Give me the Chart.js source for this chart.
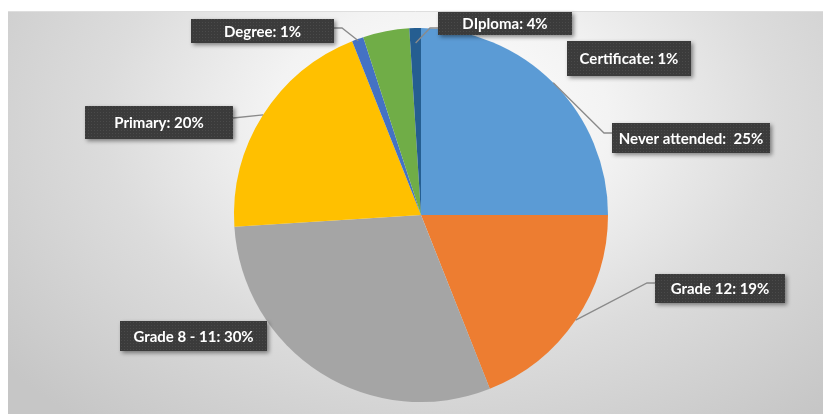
<!DOCTYPE html>
<html>
<head>
<meta charset="utf-8">
<script src="https://cdn.jsdelivr.net/npm/chart.js@4.4.1/dist/chart.umd.min.js"></script>
<style>
    body { margin: 0; background: #ffffff; }
    #wrap { width: 823px; height: 414px; }
</style>
</head>
<body>
<div id="wrap"><canvas id="pie" width="823" height="414"></canvas></div>
<script>
// data, clockwise from 12 o'clock
const categories = ['Never attended', 'Grade 12', 'Grade 8 - 11', 'Primary', 'Degree', 'Diploma', 'Certificate'];
const values = [25, 19, 30, 20, 1, 4, 1];
const labelTexts = ['Never attended:  25%', 'Grade 12: 19%', 'Grade 8 - 11: 30%', 'Primary: 20%', 'Degree: 1%', 'DIploma: 4%', 'Certificate: 1%'];
const sliceColors = ['#5b9bd5', '#ed7d31', '#a5a5a5', '#ffc000', '#4472c4', '#70ad47', '#255e91'];

// label boxes (x, y, w, h), leader line start y offset, side, which slice the leader points at
const boxes = [
    { x: 612, y: 123, w: 158, h: 30, ly: 10, side: 'left', target: 0, k: 1.0 },
    { x: 655, y: 274, w: 130, h: 29, ly: 9, side: 'left', target: 1, k: 1.0 },
    { x: 120, y: 321, w: 147, h: 30, ly: null },
    { x: 85, y: 106, w: 148, h: 33, ly: 12, side: 'right', target: 3, k: 1.0, noElbow: true },
    { x: 191, y: 19, w: 143, h: 24, ly: 9, side: 'right', target: 4, k: 0.99 },
    { x: 438, y: 12, w: 134, h: 23, ly: 16, side: 'left', target: 6, k: 0.92 },
    { x: 567, y: 41, w: 124, h: 35, ly: null }
];

function makePattern(ctx) {
    const p = document.createElement('canvas');
    p.width = 3; p.height = 3;
    const pc = p.getContext('2d');
    pc.fillStyle = '#3b3b3b';
    pc.fillRect(0, 0, 3, 3);
    pc.fillStyle = '#4a4a4a';
    pc.fillRect(1, 1, 1, 1);
    return ctx.createPattern(p, 'repeat');
}

const backgroundPlugin = {
    id: 'bg',
    beforeDraw(chart) {
        const ctx = chart.ctx;
        ctx.save();
        ctx.fillStyle = '#ffffff';
        ctx.fillRect(0, 0, chart.width, chart.height);
        // radial grey gradient, light near the top centre
        ctx.beginPath();
        ctx.rect(8, 11, chart.width - 8, chart.height - 11);
        ctx.clip();
        ctx.translate(440, 120);
        ctx.scale(1, 0.7);
        const g = ctx.createRadialGradient(0, 0, 0, 0, 0, 560);
        g.addColorStop(0, '#ffffff');
        g.addColorStop(0.3, '#f3f3f3');
        g.addColorStop(0.6, '#dcdcdc');
        g.addColorStop(1, '#c6c6c6');
        ctx.fillStyle = g;
        ctx.fillRect(-700, -700, 1400, 1400);
        ctx.restore();
        ctx.save();
        ctx.strokeStyle = '#dedede';
        ctx.lineWidth = 1;
        ctx.beginPath();
        ctx.moveTo(8, 11.5);
        ctx.lineTo(chart.width, 11.5);
        ctx.stroke();
        ctx.restore();
    }
};

const labelPlugin = {
    id: 'calloutLabels',
    afterDatasetsDraw(chart) {
        const ctx = chart.ctx;
        const arcs = chart.getDatasetMeta(0).data;
        const pattern = makePattern(ctx);
        ctx.save();
        // leader lines
        ctx.strokeStyle = '#8a8a8a';
        ctx.lineWidth = 1.3;
        boxes.forEach(b => {
            if (b.ly === null) return;
            const a = arcs[b.target];
            const mid = (a.startAngle + a.endAngle) / 2;
            const tx = a.x + Math.cos(mid) * a.outerRadius * b.k;
            const ty = a.y + Math.sin(mid) * a.outerRadius * b.k;
            const sx = b.side === 'left' ? b.x : b.x + b.w;
            const sy = b.y + b.ly;
            ctx.beginPath();
            ctx.moveTo(sx, sy);
            if (!b.noElbow) ctx.lineTo(sx + (b.side === 'left' ? -8 : 8), sy);
            ctx.lineTo(tx, ty);
            ctx.stroke();
        });
        // boxes
        boxes.forEach((b, i) => {
            ctx.save();
            ctx.shadowColor = 'rgba(0,0,0,0.45)';
            ctx.shadowBlur = 4;
            ctx.shadowOffsetX = 2;
            ctx.shadowOffsetY = 2;
            ctx.fillStyle = pattern;
            ctx.fillRect(b.x, b.y, b.w, b.h);
            ctx.restore();
            ctx.fillStyle = '#ffffff';
            ctx.font = 'bold 15px Lato';
            ctx.textAlign = 'center';
            ctx.textBaseline = 'middle';
            ctx.fillText(labelTexts[i], b.x + b.w / 2, b.y + b.h / 2 + 1);
        });
        ctx.restore();
    }
};

new Chart(document.getElementById('pie'), {
    type: 'pie',
    data: {
        labels: categories,
        datasets: [{
            data: values,
            backgroundColor: sliceColors,
            borderWidth: 0
        }]
    },
    options: {
        responsive: false,
        animation: false,
        layout: { padding: { left: 234, right: 215, top: 28, bottom: 12 } },
        plugins: {
            legend: { display: false },
            tooltip: { enabled: false }
        }
    },
    plugins: [backgroundPlugin, labelPlugin]
});
</script>
</body>
</html>
